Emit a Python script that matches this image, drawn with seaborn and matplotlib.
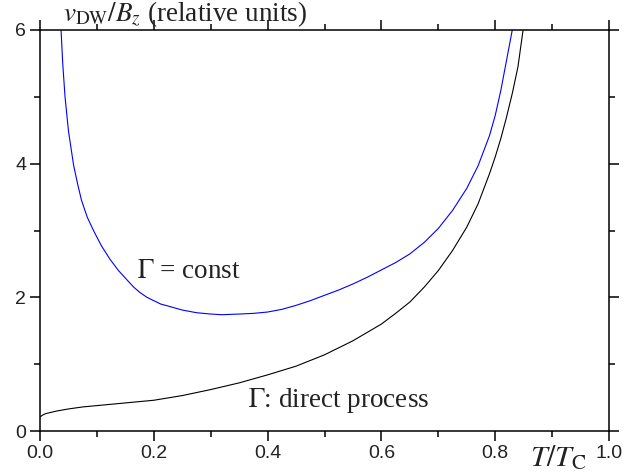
import matplotlib
matplotlib.use("Agg")
import matplotlib.pyplot as plt
import seaborn as sns
import pandas as pd
from matplotlib.ticker import MultipleLocator

# Data
t_const = [0.037, 0.040, 0.044, 0.050, 0.059, 0.066, 0.073, 0.083, 0.094, 0.108,
           0.123, 0.138, 0.153, 0.165, 0.176, 0.188, 0.200, 0.212, 0.225, 0.250,
           0.275, 0.300, 0.320, 0.350, 0.375, 0.400, 0.425, 0.450, 0.475, 0.500,
           0.525, 0.550, 0.575, 0.600, 0.625, 0.650, 0.675, 0.700, 0.725, 0.750,
           0.770, 0.790, 0.800, 0.810, 0.820, 0.830]
v_const = [6.00, 5.49, 5.00, 4.49, 3.98, 3.70, 3.45, 3.20, 3.00, 2.77,
           2.57, 2.40, 2.26, 2.15, 2.07, 2.00, 1.95, 1.90, 1.87, 1.81,
           1.77, 1.75, 1.74, 1.75, 1.76, 1.78, 1.82, 1.88, 1.95, 2.03,
           2.11, 2.20, 2.30, 2.41, 2.52, 2.65, 2.82, 3.03, 3.30, 3.63,
           3.97, 4.42, 4.72, 5.10, 5.55, 6.00]

t_direct = [0.000, 0.005, 0.010, 0.020, 0.030, 0.050, 0.075, 0.100, 0.150, 0.200,
            0.250, 0.300, 0.350, 0.400, 0.450, 0.500, 0.550, 0.600, 0.625, 0.650,
            0.675, 0.700, 0.725, 0.750, 0.770, 0.790, 0.800, 0.810, 0.820, 0.830,
            0.840, 0.849]
v_direct = [0.21, 0.24, 0.26, 0.28, 0.30, 0.33, 0.36, 0.38, 0.42, 0.46,
            0.53, 0.62, 0.72, 0.84, 0.97, 1.14, 1.35, 1.60, 1.76, 1.93,
            2.15, 2.40, 2.70, 3.05, 3.40, 3.85, 4.10, 4.38, 4.70, 5.05,
            5.45, 6.00]

x_ticks = [0.0, 0.2, 0.4, 0.6, 0.8, 1.0]
x_tick_labels = ["0.0", "0.2", "0.4", "0.6", "0.8", "1.0"]
y_ticks = [0, 2, 4, 6]
y_tick_labels = ["0", "2", "4", "6"]

label_const = r"$\Gamma$ = const"
label_direct = r"$\Gamma$: direct process"
y_label = r"$v_{\mathrm{DW}}/B_z$ (relative units)"
x_label = r"$T/T_{\mathrm{C}}$"

sns.set_theme(style="ticks")
plt.rcParams["font.family"] = ["Liberation Sans", "DejaVu Sans"]
plt.rcParams["mathtext.fontset"] = "stix"

fig = plt.figure(figsize=(6.43, 4.76), dpi=100)
ax = fig.add_axes([40 / 643, 1 - 431 / 476, 569 / 643, 401 / 476])

df_c = pd.DataFrame({"t": t_const, "v": v_const})
df_d = pd.DataFrame({"t": t_direct, "v": v_direct})
sns.lineplot(data=df_c, x="t", y="v", ax=ax, color="#0000ff", linewidth=0.8,
             sort=False, estimator=None)
sns.lineplot(data=df_d, x="t", y="v", ax=ax, color="black", linewidth=0.8,
             sort=False, estimator=None)

ax.set_xlim(0, 1.0)
ax.set_ylim(0, 6)
ax.set_xlabel("")
ax.set_ylabel("")
ax.set_xticks(x_ticks)
ax.set_xticklabels(x_tick_labels)
ax.set_yticks(y_ticks)
ax.set_yticklabels(y_tick_labels)
ax.xaxis.set_minor_locator(MultipleLocator(0.1))
ax.yaxis.set_minor_locator(MultipleLocator(1))

for s in ax.spines.values():
    s.set_visible(True)
    s.set_linewidth(1.1)
    s.set_color("black")

ax.tick_params(which="major", direction="out", length=7, width=1.1, color="black",
               top=True, right=True, labeltop=False, labelright=False,
               labelsize=14, labelcolor="#222222", pad=3)
ax.tick_params(which="minor", direction="out", length=4, width=1.1, color="black",
               top=True, right=True)

serif = ["Liberation Serif", "DejaVu Serif"]
ax.text(0.171, 2.38, label_const, fontsize=19.5, family=serif, color="#222222",
        va="center", ha="left")
ax.text(0.366, 0.46, label_direct, fontsize=19.5, family=serif, color="#222222",
        va="center", ha="left")

fig.text(63 / 643, 1 - 21 / 476, y_label, fontsize=19.5, family=serif,
         color="#222222", ha="left", va="baseline")
fig.text(530 / 643, 1 - 466 / 476, x_label, fontsize=21.5, family=serif,
         color="#222222", ha="left", va="baseline")

fig.savefig("out.png", dpi=100)
